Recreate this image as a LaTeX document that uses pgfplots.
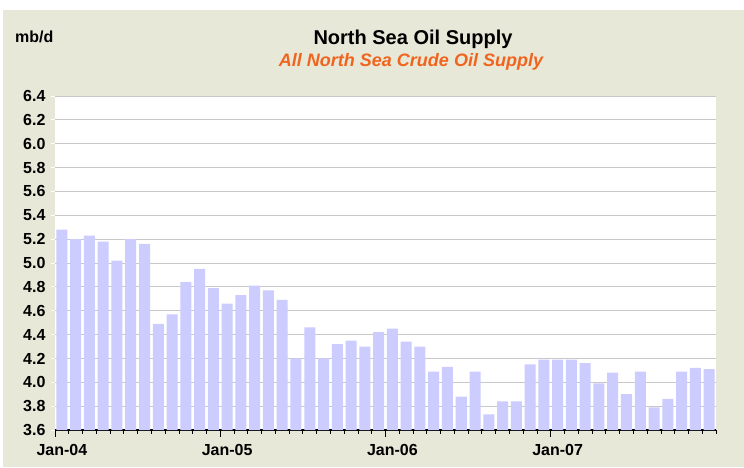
\documentclass[border=0pt]{standalone}
\usepackage{pgfplots}
\pgfplotsset{compat=1.18}
\usepackage{fontspec}
\setmainfont{Liberation Sans}

\definecolor{bgbeige}{RGB}{232,232,216}
\definecolor{barblue}{RGB}{204,204,255}
\definecolor{suborange}{RGB}{240,100,30}
\definecolor{gridgray}{RGB}{200,200,200}

% monthly supply, mb/d, Jan-04 = 0
\pgfplotstableread{
m v
0 5.28
1 5.20
2 5.23
3 5.18
4 5.02
5 5.20
6 5.16
7 4.49
8 4.57
9 4.84
10 4.95
11 4.79
12 4.66
13 4.73
14 4.81
15 4.77
16 4.69
17 4.20
18 4.46
19 4.20
20 4.32
21 4.35
22 4.30
23 4.42
24 4.45
25 4.34
26 4.30
27 4.09
28 4.13
29 3.88
30 4.09
31 3.73
32 3.84
33 3.84
34 4.15
35 4.19
36 4.19
37 4.19
38 4.16
39 3.99
40 4.08
41 3.90
42 4.09
43 3.79
44 3.86
45 4.09
46 4.12
47 4.11
}\supply

\begin{document}
\begin{tikzpicture}[x=1pt,y=1pt]
  \fill[white] (0,0) rectangle (744,467);
  \fill[bgbeige] (3,0) rectangle (744,457);
  \node[anchor=base west,inner sep=0pt,font=\bfseries\fontsize{16}{18}\selectfont] at (15,424) {mb/d};
  \node[anchor=base,inner sep=0pt,font=\bfseries\fontsize{20}{22}\selectfont] at (413,422) {North Sea Oil Supply};
  \node[anchor=base,inner sep=0pt,text=suborange,font=\bfseries\itshape\fontsize{18}{20}\selectfont] at (411,400) {All North Sea Crude Oil Supply};
  \begin{axis}[
    at={(55pt,37pt)}, anchor=south west,
    scale only axis, width=661pt, height=334pt,
    axis background/.style={fill=white},
    xmin=-0.5, xmax=47.5,
    ymin=3.6, ymax=6.4,
    ytick={3.6,3.8,4.0,4.2,4.4,4.6,4.8,5.0,5.2,5.4,5.6,5.8,6.0,6.2,6.4},
    xtick={-0.5,0.5,...,47.5},
    xticklabels={},
    minor xtick={-0.5,11.5,23.5,35.5},
    extra x ticks={0,12,24,36},
    extra x tick labels={Jan-04,Jan-05,Jan-06,Jan-07},
    extra x tick style={major tick length=0pt, grid=none,
      tick label style={yshift=-11pt}},
    tick align=outside,
    major tick length=4pt,
    minor tick length=6.5pt,
    axis x line*=bottom,
    axis y line*=left,
    x axis line style={black, line width=1.2pt},
    y axis line style={draw=none},
    xtick style={black, line width=0.8pt},
    ytick style={white, line width=1pt},
    ymajorgrids,
    major grid style={gridgray, line width=1pt},
    ticklabel style={font=\bfseries\fontsize{16}{18}\selectfont},
    yticklabel style={xshift=-2pt},
    /pgf/number format/.cd, fixed, fixed zerofill, precision=1, assume math mode=true,
  ]
    \addplot[ybar, bar width=0.8, bar shift=0pt, draw=none, fill=barblue] table[x=m, y=v] {\supply};
  \end{axis}
\end{tikzpicture}
\end{document}
